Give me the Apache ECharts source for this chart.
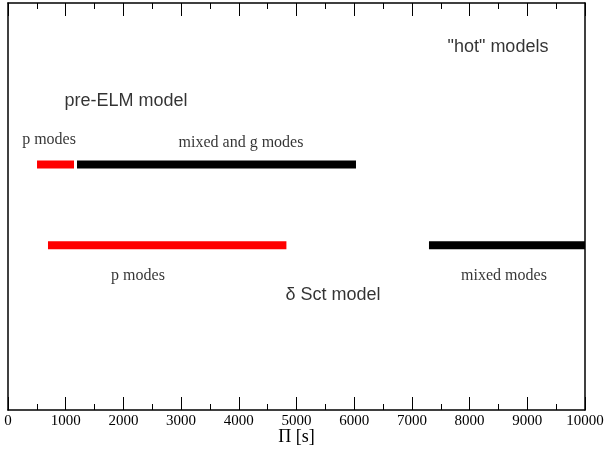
<!DOCTYPE html>
<html>
<head>
<meta charset="utf-8">
<script src="https://cdn.jsdelivr.net/npm/echarts@6/dist/echarts.min.js"></script>
<style>
  html, body { margin: 0; padding: 0; background: #fff; }
  #chart { width: 605px; height: 450px; }
</style>
</head>
<body>
<div id="chart"></div>
<script>
// period ranges in seconds, [start, end]
const rowLevels = [0.603, 0.405];
const preElmP = [503, 1144];
const preElmMixed = [1196, 6031];
const dsctP = [693, 4825];
const dsctMixed = [7296, 10000];

// annotations: [x, y, text, kind]
const notes = [
    [8492, 0.892, '"hot" models', "sans"],
    [2045, 0.759, "pre-ELM model", "sans"],
    [711, 0.663, "p modes", "serif"],
    [4038, 0.656, "mixed and g modes", "serif"],
    [2253, 0.329, "p modes", "serif"],
    [5633, 0.283, "\u03b4 Sct model", "sans"],
    [8596, 0.329, "mixed modes", "serif"],
];

const serif = "Liberation Serif";
const sans = "Liberation Sans";

const bar = (range, level, color) => ({
    type: "line",
    data: range.map((x) => [x, level]),
    symbol: "none",
    silent: true,
    lineStyle: { color: color, width: 8, cap: "butt" },
    z: 3,
});

const chart = echarts.init(document.getElementById("chart"), null, { renderer: "canvas" });

const frameLine = () => ({ show: true, onZero: false, lineStyle: { color: "#000", width: 1.5 } });

const xCfg = () => ({
    type: "value",
    min: 0,
    max: 10000,
    interval: 1000,
    axisLine: frameLine(),
    axisTick: { show: true, inside: true, length: 13, lineStyle: { color: "#000", width: 1 } },
    minorTick: { show: true, splitNumber: 2, length: 6, lineStyle: { color: "#000", width: 1 } },
    splitLine: { show: false },
});

const yCfg = () => ({
    type: "value",
    min: 0,
    max: 1,
    axisLine: frameLine(),
    axisTick: { show: false },
    axisLabel: { show: false },
    splitLine: { show: false },
});

chart.setOption({
    animation: false,
    grid: { left: 8, right: 20, top: 3, bottom: 40, outerBoundsMode: "none" },
    xAxis: [
        {
            ...xCfg(),
            position: "bottom",
            name: "\u03a0 [s]",
            nameLocation: "middle",
            nameGap: 18,
            nameMoveOverlap: false,
            nameTextStyle: { fontFamily: serif, fontSize: 18, color: "#000" },
            axisLabel: { margin: 4, fontFamily: serif, fontSize: 15, color: "#000", formatter: (v) => String(v) },
        },
        { ...xCfg(), position: "top", axisLabel: { show: false } },
    ],
    yAxis: [
        { ...yCfg(), position: "left" },
        { ...yCfg(), position: "right" },
    ],
    series: [
        bar(preElmP, rowLevels[0], "#ff0000"),
        bar(preElmMixed, rowLevels[0], "#000000"),
        bar(dsctP, rowLevels[1], "#ff0000"),
        bar(dsctMixed, rowLevels[1], "#000000"),
        {
            type: "scatter",
            symbolSize: 0,
            silent: true,
            data: notes.map((n) => ({
                value: [n[0], n[1]],
                label: {
                    show: true,
                    position: "inside",
                    formatter: n[2],
                    color: "#000",
                    fontFamily: n[3] === "sans" ? sans : serif,
                    fontSize: n[3] === "sans" ? 18 : 16,
                },
            })),
        },
    ],
});
</script>
</body>
</html>
